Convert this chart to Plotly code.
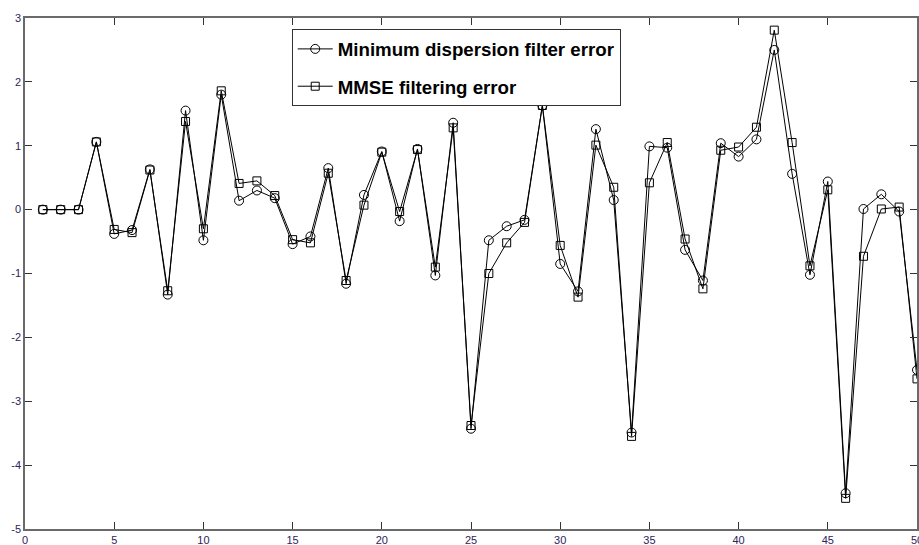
import plotly.graph_objects as go

x_vals = list(range(1, 51))
min_disp_err = [0, 0, 0, 1.06, -0.38, -0.32, 0.63, -1.33, 1.55, -0.48,
                1.80, 0.14, 0.30, 0.18, -0.54, -0.42, 0.65, -1.16, 0.23, 0.91,
                -0.18, 0.95, -1.03, 1.36, -3.43, -0.48, -0.26, -0.16, 1.63, -0.85,
                -1.28, 1.26, 0.15, -3.49, 0.99, 0.97, -0.63, -1.11, 1.04, 0.83,
                1.10, 2.50, 0.56, -1.02, 0.44, -4.44, 0.01, 0.24, -0.03, -2.51]
mmse_err = [0, 0, 0, 1.06, -0.31, -0.36, 0.62, -1.27, 1.38, -0.30,
            1.86, 0.41, 0.45, 0.22, -0.47, -0.52, 0.57, -1.11, 0.07, 0.90,
            -0.03, 0.94, -0.90, 1.28, -3.38, -1.00, -0.52, -0.20, 1.63, -0.56,
            -1.37, 1.01, 0.35, -3.55, 0.42, 1.05, -0.46, -1.24, 0.93, 0.98,
            1.29, 2.81, 1.05, -0.88, 0.31, -4.52, -0.73, 0.01, 0.04, -2.65]
x_ticks = list(range(0, 51, 5))
x_tick_text = [str(v) for v in x_ticks]
y_ticks = list(range(-5, 4))
y_tick_text = [str(v) for v in y_ticks]

fig = go.Figure()
fig.add_trace(go.Scatter(
    x=x_vals, y=min_disp_err, mode="lines+markers",
    name="Minimum dispersion filter error", legendgroup="a",
    line=dict(color="black", width=1),
    marker=dict(symbol="circle-open", size=9, color="black", line=dict(width=1)),
))
fig.add_trace(go.Scatter(
    x=x_vals, y=mmse_err, mode="lines+markers",
    name="MMSE filtering error", legendgroup="b",
    line=dict(color="black", width=1),
    marker=dict(symbol="square-open", size=8, color="black", line=dict(width=1)),
))

axis_common = dict(
    showgrid=False, zeroline=False, showline=True, linecolor="#6a6a6a", linewidth=1.5,
    mirror="ticks", ticks="inside", ticklen=7, tickcolor="#333333", tickwidth=1,
    ticklabeloverflow="allow", automargin=False,
    tickfont=dict(family="Liberation Sans, Arial, sans-serif", size=11, color="#2e2458"),
)
fig.update_xaxes(range=[0, 50], tickvals=x_ticks, ticktext=x_tick_text, **axis_common)
fig.update_yaxes(range=[-5, 3], tickvals=y_ticks, ticktext=y_tick_text, **axis_common)

fig.update_layout(
    width=919, height=545,
    margin=dict(l=25, r=1.5, t=18, b=16, autoexpand=False),
    paper_bgcolor="white", plot_bgcolor="white",
    legend=dict(
        x=0.299, y=0.978, xanchor="left", yanchor="top",
        bgcolor="white", bordercolor="#333333", borderwidth=1,
        font=dict(family="Liberation Sans, Arial, sans-serif", size=18.7,
                  color="black", weight="bold"),
        tracegroupgap=10, itemwidth=35,
    ),
    showlegend=True,
)

fig.write_html("out.html")
